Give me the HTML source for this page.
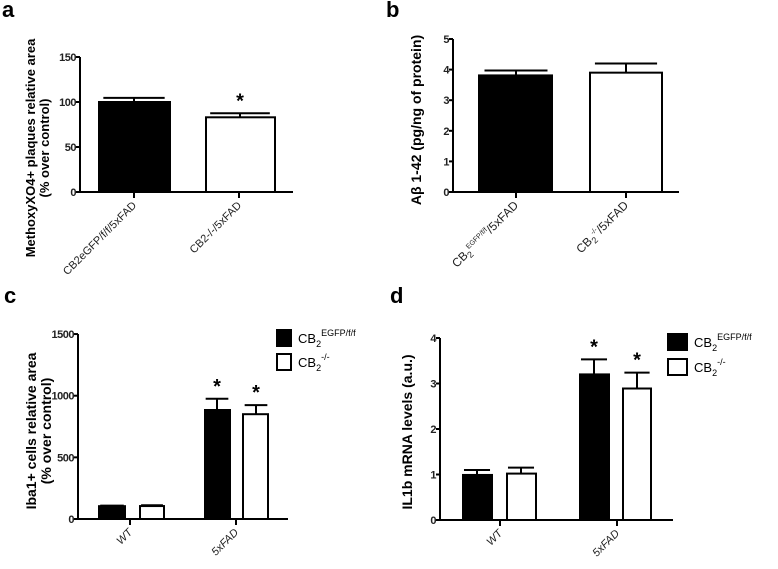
<!DOCTYPE html>
<html><head><meta charset="utf-8"><style>
html,body{margin:0;padding:0;background:#fff;}
svg{display:block;font-family:"Liberation Sans",Arial,sans-serif;}
</style></head><body>
<svg id="fig" width="778" height="569" viewBox="0 0 778 569"></svg>
<script>
// Panel a data
const aCats = ["CB2eGFP/f/f/5xFAD","CB2-/-/5xFAD"];
const aVals = [100, 83];
const aErrs = [104.6, 87.5];
const aTicks = [0,50,100,150];
// Panel b data
const bCats = ["CB2EGFP/f/f/5xFAD","CB2-/-/5xFAD"];
const bVals = [3.81, 3.9];
const bErrs = [3.97, 4.2];
const bTicks = [0,1,2,3,4,5];
// Panel c data
const cCats = ["WT","5xFAD"];
const cBlack = [104, 884];
const cBlackErr = [108, 975];
const cWhite = [105, 850];
const cWhiteErr = [112, 924];
const cTicks = [0,500,1000,1500];
// Panel d data
const dCats = ["WT","5xFAD"];
const dBlack = [0.99, 3.2];
const dBlackErr = [1.1, 3.53];
const dWhite = [1.02, 2.89];
const dWhiteErr = [1.15, 3.24];
const dTicks = [0,1,2,3,4];

const NS="http://www.w3.org/2000/svg";
const svg=document.getElementById('fig');
function el(tag,attrs,parent,text){const e=document.createElementNS(NS,tag);for(const k in attrs)e.setAttribute(k,attrs[k]);if(text!==undefined)e.textContent=text;(parent||svg).appendChild(e);return e;}

function panel(cfg){
  const g=el('g',{});
  
  
  const y=v=>cfg.y0-(v-0)*cfg.ppu;
  const lab=el('text',{x:cfg.lx,y:cfg.ly,'font-size':22,'font-weight':'bold'},g,cfg.id);
  
  
  const yTop=y(cfg.ticks[cfg.ticks.length-1]);
  const ya=el('line',{x1:cfg.ax,y1:yTop,x2:cfg.ax,y2:cfg.y0,stroke:'#000','stroke-width':2},g);
  
  
  const xa=el('line',{x1:cfg.ax-1,y1:cfg.y0,x2:cfg.axEnd,y2:cfg.y0,stroke:'#000','stroke-width':2},g);
  
  
  cfg.ticks.forEach(t=>{
    el('line',{x1:cfg.ax-4,y1:y(t),x2:cfg.ax,y2:y(t),stroke:'#000','stroke-width':2},g);
    const tl=el('text',{x:cfg.ax-4,y:y(t)+4,'font-size':cfg.tfs,'font-weight':'bold','text-anchor':'end',fill:'#222','letter-spacing':'-0.5'},g,String(t));
    
    
  });
  const tt=el('text',{transform:`translate(${cfg.tx},${cfg.ty}) rotate(-90)`,'font-size':cfg.titleFs,'font-weight':'bold','text-anchor':'middle'},g);
  
  
  cfg.title.forEach((line,i)=>{el('tspan',{x:0,dy:i?cfg.titleFs+1:0},tt,line);});
  cfg.bars.forEach(b=>{
    const top=y(b.v);
    const hw=(b.x2-b.x1)*0.42;
    el('line',{x1:b.cx,y1:y(b.e),x2:b.cx,y2:top,stroke:'#000','stroke-width':2},g);
    el('line',{x1:b.cx-hw,y1:y(b.e),x2:b.cx+hw,y2:y(b.e),stroke:'#000','stroke-width':2},g);
    const r=el('rect',{x:b.x1+1,y:top,width:b.x2-b.x1-2,height:cfg.y0-top,fill:b.fill,stroke:'#000','stroke-width':2},g);
    
    
    if(b.star){const s=el('text',{x:b.cx,y:y(b.e)-6,'font-size':20,'font-weight':'bold','text-anchor':'middle'},g,'*');
      
      }
  });
  cfg.xt.forEach((xt,i)=>{
    el('line',{x1:xt,y1:cfg.y0,x2:xt,y2:cfg.y0+6,stroke:'#000','stroke-width':2},g);
    const t=el('text',{transform:`translate(${xt+3},${cfg.y0+14}) rotate(-45)`,'font-size':cfg.xfs,'text-anchor':'end','font-style':cfg.italic?'italic':'normal',fill:'#222'},g);
    
    
    cfg.xlab(t,i);
  });
  if(cfg.legend){
    const L=cfg.legend;
    [['#000','EGFP/f/f'],['#fff','-/-']].forEach((it,i)=>{
      const ry=L.y+i*L.gap;
      const sq=el('rect',{x:L.x,y:ry,width:L.w,height:L.h,fill:it[0],stroke:'#000','stroke-width':2},g);
      
      
      const t=el('text',{x:L.x+L.w+7,y:ry+L.h-3,'font-size':13},g);
      
      
      el('tspan',{},t,'CB');
      el('tspan',{dy:4,'font-size':9},t,'2');
      el('tspan',{dy:-11,'font-size':9},t,it[1]);
    });
  }
}

panel({id:'a',lx:2,ly:17,ax:80,axEnd:293,y0:192,ppu:0.9,ticks:aTicks,tfs:11,tx:35,ty:148,titleFs:13,
  title:['MethoxyXO4+ plaques relative area','(% over control)'],
  bars:[{name:'a-cb2egfp',x1:98,x2:171,cx:134,v:aVals[0],e:aErrs[0],fill:'#000'},
        {name:'a-cb2ko',x1:205,x2:276,cx:240,v:aVals[1],e:aErrs[1],fill:'#fff',star:true}],
  xt:[134,239],xfs:11,xlab:(t,i)=>{t.textContent=aCats[i];}});
panel({id:'b',lx:386,ly:17,ax:453,axEnd:679,y0:192,ppu:30.6,ticks:bTicks,tfs:11,tx:421,ty:120,titleFs:14,
  title:['A\u03b2 1-42 (pg/ng of protein)'],
  bars:[{name:'b-cb2egfp',x1:478,x2:553,cx:516,v:bVals[0],e:bErrs[0],fill:'#000'},
        {name:'b-cb2ko',x1:589,x2:663,cx:626,v:bVals[1],e:bErrs[1],fill:'#fff'}],
  xt:[516,626],xfs:12,xlab:(t,i)=>{
    el('tspan',{},t,'CB');el('tspan',{dy:3,'font-size':9},t,'2');
    el('tspan',{dy:-8,'font-size':7},t,i===0?'EGFP/f/f':'-/-');
    el('tspan',{dy:5},t,'/5xFAD');}});
panel({id:'c',lx:4,ly:303,ax:78,axEnd:288,y0:519,ppu:0.1233,ticks:cTicks,tfs:11,tx:36,ty:431,titleFs:14,
  title:['Iba1+ cells relative area','(% over control)'],
  bars:[{name:'c-wt-cb2egfp',x1:98,x2:126,cx:112,v:cBlack[0],e:cBlackErr[0],fill:'#000'},
        {name:'c-wt-cb2ko',x1:139,x2:165,cx:152,v:cWhite[0],e:cWhiteErr[0],fill:'#fff'},
        {name:'c-5xfad-cb2egfp',x1:204,x2:231,cx:217,v:cBlack[1],e:cBlackErr[1],fill:'#000',star:true},
        {name:'c-5xfad-cb2ko',x1:242,x2:269,cx:256,v:cWhite[1],e:cWhiteErr[1],fill:'#fff',star:true}],
  xt:[130,236],xfs:11,italic:true,xlab:(t,i)=>{t.textContent=cCats[i];},
  legend:{x:277,y:330,w:14,h:16,gap:24}});
panel({id:'d',lx:390,ly:303,ax:440,axEnd:673,y0:520,ppu:45.5,ticks:dTicks,tfs:11,tx:412,ty:432,titleFs:14,
  title:['IL1b mRNA levels (a.u.)'],
  bars:[{name:'d-wt-cb2egfp',x1:462,x2:493,cx:477,v:dBlack[0],e:dBlackErr[0],fill:'#000'},
        {name:'d-wt-cb2ko',x1:506,x2:537,cx:521,v:dWhite[0],e:dWhiteErr[0],fill:'#fff'},
        {name:'d-5xfad-cb2egfp',x1:579,x2:610,cx:594,v:dBlack[1],e:dBlackErr[1],fill:'#000',star:true},
        {name:'d-5xfad-cb2ko',x1:622,x2:652,cx:637,v:dWhite[1],e:dWhiteErr[1],fill:'#fff',star:true}],
  xt:[500,617],xfs:11,italic:true,xlab:(t,i)=>{t.textContent=dCats[i];},
  legend:{x:668,y:334,w:19,h:16,gap:25}});
</script>
</body></html>
